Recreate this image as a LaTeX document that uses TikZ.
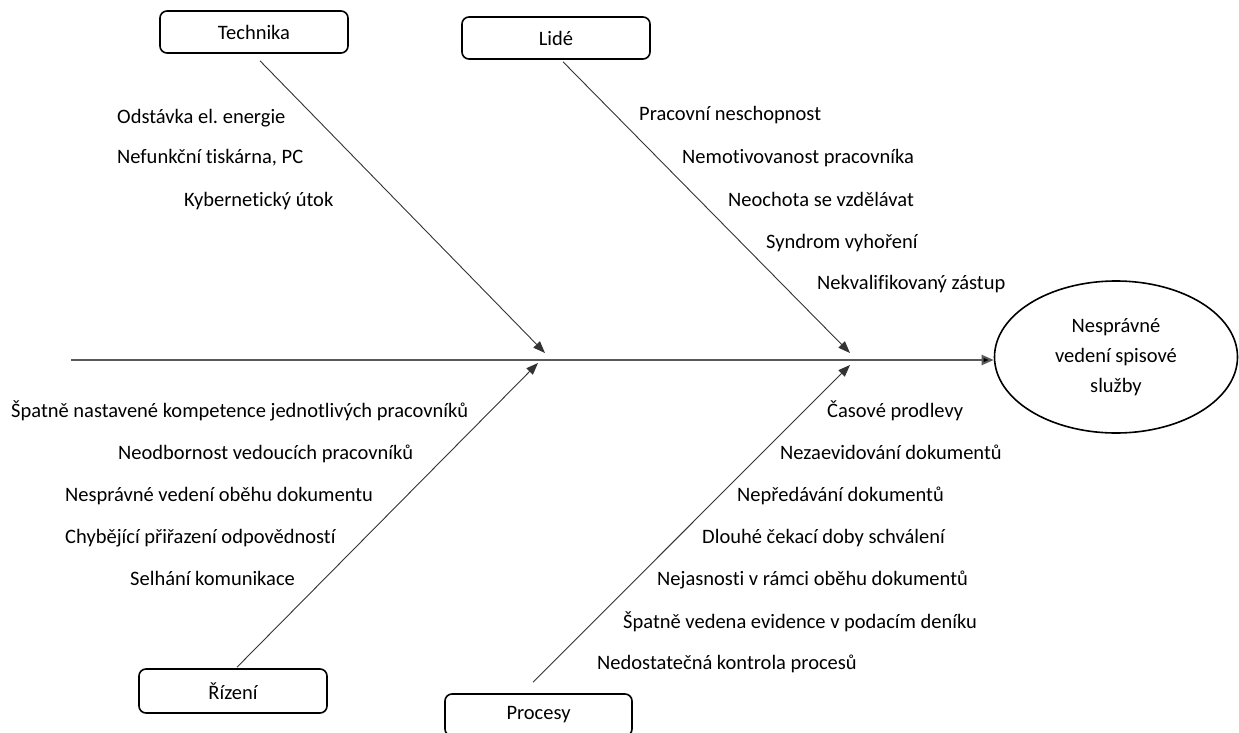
\documentclass[tikz,border=0pt]{standalone}
\usepackage{fontspec}
\setmainfont{Carlito}[Ligatures={NoCommon}]
\usetikzlibrary{arrows.meta,shapes.geometric}
\frenchspacing
\begin{document}
\begin{tikzpicture}[x=1pt,y=-1pt,
  every node/.style={font=\fontsize{20.5}{24}\selectfont, text=black},
  catbox/.style={draw=black, line width=1.6pt, rounded corners=7pt,
    minimum width=188pt, minimum height=42pt, inner sep=0pt},
  cause/.style={anchor=base west, inner sep=0pt},
  branch/.style={draw=black!80, line width=0.9pt,
    -{Triangle[length=12pt,width=9pt]}},
  spine/.style={draw=black!65, line width=2pt,
    -{Triangle[length=12pt,width=10pt,fill=black]}},
  effect/.style={ellipse, draw=black, line width=1.6pt, minimum width=243pt,
    minimum height=152pt, inner sep=0pt, align=center,
    font=\fontsize{20.5}{30}\selectfont}]

\useasboundingbox (0,0) rectangle (1239,733);
\clip (0,0) rectangle (1239,733);

% category boxes
\node[catbox] (tech) at (254,32) {Technika};
\node[catbox] (lide) at (556,38) {Lidé};
\node[catbox, minimum height=44pt] (rizeni) at (233,691) {Řízení};
\node[catbox, minimum width=187pt] (proc) at (538.5,715) {Procesy};

% effect
\node[effect] (eff) at (1116,357) {Nesprávné\\vedení spisové\\služby};

% points where the branches meet the spine
\coordinate (tipT) at (545,353);
\coordinate (tipR) at (538,363);
\coordinate (tipL) at (850,353);
\coordinate (tipP) at (850,365);
\coordinate (spineL) at (71,360);

% spine
\draw[spine] (spineL) -- (spineL -| eff.west);

% branches
\draw[branch] ([xshift=6pt,yshift=-7pt]tech.south) -- (tipT);
\draw[branch] ([xshift=7pt,yshift=-2pt]lide.south) -- (tipL);
\draw[branch] ([xshift=4pt,yshift=1pt]rizeni.north) -- (tipR);
\draw[branch] ([xshift=-5.5pt,yshift=11pt]proc.north) -- (tipP);

% Technika
\node[cause] (t1) at (117,124) {Odstávka el. energie};
\node[cause] (t2) at (117,164) {Nefunkční tiskárna, PC};
\node[cause] (t3) at (184,206) {Kybernetický útok};

% Lidé
\node[cause] (l1) at (639,121) {Pracovní neschopnost};
\node[cause] (l2) at (682,163) {Nemotivovanost pracovníka};
\node[cause] (l3) at (728,206) {Neochota se vzdělávat};
\node[cause] (l4) at (766,248) {Syndrom vyhoření};
\node[cause] (l5) at (817,289) {Nekvalifikovaný zástup};

% Řízení
\node[cause] (r1) at (11,417) {Špatně nastavené kompetence jednotlivých pracovníků};
\node[cause] (r2) at (118,459) {Neodbornost vedoucích pracovníků};
\node[cause] (r3) at (65,501) {Nesprávné vedení oběhu dokumentu};
\node[cause] (r4) at (65,543) {Chybějící přiřazení odpovědností};
\node[cause] (r5) at (130,585) {Selhání komunikace};

% Procesy
\node[cause] (p1) at (827,417) {Časové prodlevy};
\node[cause] (p2) at (780,459) {Nezaevidování dokumentů};
\node[cause] (p3) at (737,501) {Nepředávání dokumentů};
\node[cause] (p4) at (702,543) {Dlouhé čekací doby schválení};
\node[cause] (p5) at (657,585) {Nejasnosti v rámci oběhu dokumentů};
\node[cause] (p6) at (623,628) {Špatně vedena evidence v podacím deníku};
\node[cause] (p7) at (597,669) {Nedostatečná kontrola procesů};
\end{tikzpicture}
\end{document}
